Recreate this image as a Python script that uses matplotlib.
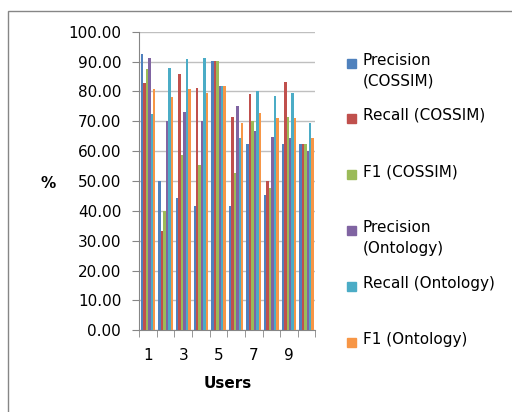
import numpy as np
import matplotlib
matplotlib.use('Agg')
import matplotlib.pyplot as plt
from matplotlib.patches import Rectangle

users = ['1', '2', '3', '4', '5', '6', '7', '8', '9', '10']
series_names = ['Precision\n(COSSIM)', 'Recall (COSSIM)', 'F1 (COSSIM)',
                'Precision\n(Ontology)', 'Recall (Ontology)', 'F1 (Ontology)']
precision_cossim = [92.5, 50.0, 44.4, 41.7, 90.3, 41.7, 62.5, 45.3, 62.5, 62.5]
recall_cossim    = [82.9, 33.3, 85.9, 81.1, 90.3, 71.4, 79.1, 50.0, 83.3, 62.5]
f1_cossim        = [87.4, 40.0, 58.7, 55.4, 90.3, 52.7, 70.1, 47.7, 71.4, 62.5]
precision_onto   = [91.2, 70.2, 73.2, 70.2, 81.8, 75.0, 66.7, 64.7, 64.3, 60.2]
recall_onto      = [72.5, 87.7, 90.7, 91.2, 81.8, 64.3, 80.1, 78.5, 79.5, 69.3]
f1_onto          = [80.9, 78.0, 80.9, 79.5, 81.8, 69.3, 72.9, 71.1, 71.1, 64.3]
all_series = [precision_cossim, recall_cossim, f1_cossim,
              precision_onto, recall_onto, f1_onto]
colors = ['#4F81BD', '#C0504D', '#9BBB59', '#8064A2', '#4BACC6', '#F79646']

plt.rcParams['font.family'] = ['DejaVu Sans']

fig = plt.figure(figsize=(5.12, 4.12), dpi=100)
ax = fig.add_axes([0.272, 0.1983, 0.344, 0.7247])

# grouped bars
x = np.arange(len(users))
bw = 0.83 / len(all_series)
for i, (vals, col) in enumerate(zip(all_series, colors)):
    ax.bar(x - 0.415 + bw * (i + 0.5), vals, width=bw, color=col, zorder=3)

# axes formatting, excel-ish
ax.set_xlim(-0.5, len(users) - 0.5)
ax.set_ylim(0, 100)
ax.set_yticks(np.arange(0, 101, 10))
ax.set_yticklabels(['{:.2f}'.format(v) for v in np.arange(0, 101, 10)], fontsize=11)
ax.set_xticks(x[::2])
ax.set_xticklabels(users[::2], fontsize=11)
ax.set_xticks(np.arange(-0.5, len(users)), minor=True)
ax.tick_params(axis='x', which='major', length=0, pad=13)
ax.tick_params(axis='x', which='minor', length=5, color='#868686', direction='out')
ax.tick_params(axis='y', length=5, color='#868686', pad=8)
ax.grid(axis='y', color='#BFBFBF', lw=1, zorder=0)
for s in ['top', 'right']:
    ax.spines[s].set_visible(False)
for s in ['left', 'bottom']:
    ax.spines[s].set_color('#868686')
ax.set_xlabel('Users', fontsize=11, fontweight='bold', labelpad=9)
fig.text(48 / 512, 1 - 183 / 412, '%', fontsize=11, fontweight='bold',
         ha='center', va='center')

# legend drawn by hand to get the uneven excel spacing
leg_y = [63, 118, 174, 230, 286, 342]
for name, col, yy in zip(series_names, colors, leg_y):
    fig.add_artist(Rectangle((347 / 512, 1 - (yy + 4.5) / 412), 9 / 512, 9 / 412,
                             transform=fig.transFigure, color=col))
    fig.text(363 / 512, 1 - (yy - 10) / 412, name, fontsize=11, ha='left', va='top',
             linespacing=1.5)

# chart area border
fig.add_artist(Rectangle((8 / 512, -0.1), 1.2, 1.1 - 11 / 412, transform=fig.transFigure,
                         fill=False, ec='#868686', lw=1))

fig.savefig('out.png', dpi=100)
